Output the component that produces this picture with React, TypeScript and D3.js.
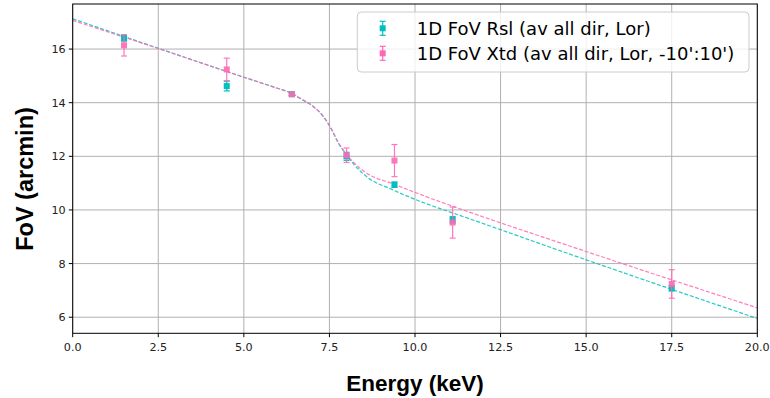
import React from "react";
import * as d3 from "d3";

// Measured field of view per energy
const energies = [1.5, 4.5, 6.4, 8.0, 9.4, 11.1, 17.5];
const rslValues = [16.4, 14.62, 14.32, 12.0, 10.94, 9.63, 7.08];
const rslErrors = [0.1, 0.18, 0.05, 0.15, 0.1, 0.12, 0.1];
const xtdValues = [16.14, 15.24, 14.31, 12.04, 11.84, 9.53, 7.24];
const xtdErrors = [0.4, 0.42, 0.05, 0.27, 0.6, 0.58, 0.53];

// Fitted model curves (sampled)
const fitEnergies = [0, 2.5, 5, 5.5, 6.0, 6.4, 6.64, 7.03, 7.32, 7.57, 7.76, 8.0, 8.2, 8.59, 9.37, 10.53, 11.12, 15, 20];
const rslFit = [17.13, 16.03, 14.95, 14.74, 14.53, 14.35, 14.16, 13.85, 13.48, 12.98, 12.49, 12.05, 11.72, 11.24, 10.74, 10.14, 9.88, 8.14, 5.95];
const xtdFit = [17.07, 16.02, 14.95, 14.74, 14.53, 14.35, 14.17, 13.86, 13.5, 13.0, 12.52, 12.08, 11.78, 11.37, 10.97, 10.4, 10.13, 8.45, 6.35];

const xTicks = [0, 2.5, 5, 7.5, 10, 12.5, 15, 17.5, 20];
const yTicks = [6, 8, 10, 12, 14, 16];

const legendLabels = ["1D FoV Rsl (av all dir, Lor)", "1D FoV Xtd (av all dir, Lor, -10':10')"];

const CYAN = "#00bfbf";
const PINK = "#ff69b4";

const W = 770;
const H = 398;
const plot = { left: 72.7, right: 757.3, top: 4, bottom: 333.3 };

export default function App() {
  const x = d3.scaleLinear().domain([0, 20]).range([plot.left, plot.right]);
  const y = d3.scaleLinear().domain([5.4, 17.68]).range([plot.bottom, plot.top]);

  const line = (vals: number[]) =>
    d3
      .line<number>()
      .x((_, i) => x(fitEnergies[i]))
      .y((d) => y(d))
      .curve(d3.curveMonotoneX)(vals) as string;

  const tickFont = "DejaVu Sans, sans-serif";
  const labelFont = "Liberation Sans, Arial, sans-serif";

  const series = [
    { vals: rslValues, errs: rslErrors, color: CYAN, fit: rslFit, opacity: 1 },
    { vals: xtdValues, errs: xtdErrors, color: PINK, fit: xtdFit, opacity: 0.9 },
  ];

  const ms = 6;
  const cap = 3;

  return (
    <div style={{ position: "absolute", left: 0, top: 0 }}>
      <svg width={W} height={H} style={{ display: "block", background: "#fff" }}>
        <defs>
          <clipPath id="plotClip">
            <rect x={plot.left} y={plot.top} width={plot.right - plot.left} height={plot.bottom - plot.top} />
          </clipPath>
        </defs>
        {/* grid */}
        <g stroke="#b0b0b0" strokeWidth={1}>
          {xTicks.map((t) => (
            <line key={"gx" + t} x1={x(t)} x2={x(t)} y1={plot.top} y2={plot.bottom} />
          ))}
          {yTicks.map((t) => (
            <line key={"gy" + t} x1={plot.left} x2={plot.right} y1={y(t)} y2={y(t)} />
          ))}
        </g>

        {/* fitted curves */}
        <g clipPath="url(#plotClip)" fill="none">
          {series.map((s, k) => (
            <path
              key={"fit" + k}
              d={line(s.fit)}
              stroke={s.color}
              strokeWidth={1.2}
              strokeDasharray="4,1.8"
              opacity={0.85}
            />
          ))}
        </g>

        {/* data points with error bars */}
        {series.map((s, k) => (
          <g key={"pts" + k} opacity={s.opacity}>
            {energies.map((e, i) => {
              const cx = x(e);
              const y0 = y(s.vals[i] - s.errs[i]);
              const y1 = y(s.vals[i] + s.errs[i]);
              return (
                <g key={i}>
                  <line x1={cx} x2={cx} y1={y0} y2={y1} stroke={s.color} strokeWidth={1.2} />
                  <line x1={cx - cap} x2={cx + cap} y1={y0} y2={y0} stroke={s.color} strokeWidth={1.2} />
                  <line x1={cx - cap} x2={cx + cap} y1={y1} y2={y1} stroke={s.color} strokeWidth={1.2} />
                  <rect x={cx - ms / 2} y={y(s.vals[i]) - ms / 2} width={ms} height={ms} fill={s.color} />
                </g>
              );
            })}
          </g>
        ))}

        {/* frame */}
        <rect
          x={plot.left}
          y={plot.top}
          width={plot.right - plot.left}
          height={plot.bottom - plot.top}
          fill="none"
          stroke="#000"
          strokeWidth={1}
        />

        {/* axis ticks */}
        <g fontFamily={tickFont} fontSize={11.2} fill="#222">
          {xTicks.map((t) => (
            <g key={"tx" + t}>
              <line x1={x(t)} x2={x(t)} y1={plot.bottom} y2={plot.bottom + 3.9} stroke="#000" />
              <text x={x(t)} y={plot.bottom + 17.5} textAnchor="middle">
                {d3.format(".1f")(t)}
              </text>
            </g>
          ))}
          {yTicks.map((t) => (
            <g key={"ty" + t}>
              <line x1={plot.left - 3.9} x2={plot.left} y1={y(t)} y2={y(t)} stroke="#000" />
              <text x={plot.left - 7} y={y(t)} dy="0.36em" textAnchor="end">
                {t}
              </text>
            </g>
          ))}
        </g>

        {/* axis labels */}
        <text
          x={(plot.left + plot.right) / 2}
          y={390.5}
          textAnchor="middle"
          fontFamily={labelFont}
          fontWeight="bold"
          fontSize={22.5}
          fill="#000"
        >
          Energy (keV)
        </text>
        <text
          transform="translate(32.5, 179) rotate(-90)"
          textAnchor="middle"
          fontFamily={labelFont}
          fontWeight="bold"
          fontSize={23.5}
          fill="#000"
        >
          FoV (arcmin)
        </text>

        {/* legend */}
        <g>
          <rect x={357.3} y={12} width={391.7} height={60} rx={4} fill="#fff" fillOpacity={0.8} stroke="#cccccc" strokeWidth={1} />
          {series.map((s, k) => {
            const cy = 28.3 + k * 25;
            const cx = 382.7;
            return (
              <g key={"lg" + k}>
                <line x1={cx} x2={cx} y1={cy - 7} y2={cy + 7} stroke={s.color} strokeWidth={1.2} />
                <line x1={cx - cap} x2={cx + cap} y1={cy - 7} y2={cy - 7} stroke={s.color} strokeWidth={1.2} />
                <line x1={cx - cap} x2={cx + cap} y1={cy + 7} y2={cy + 7} stroke={s.color} strokeWidth={1.2} />
                <rect x={cx - ms / 2} y={cy - ms / 2} width={ms} height={ms} fill={s.color} />
                <text x={416.7} y={cy} dy="0.36em" fontFamily={tickFont} fontSize={18} fill="#000">
                  {legendLabels[k]}
                </text>
              </g>
            );
          })}
        </g>
      </svg>
    </div>
  );
}
